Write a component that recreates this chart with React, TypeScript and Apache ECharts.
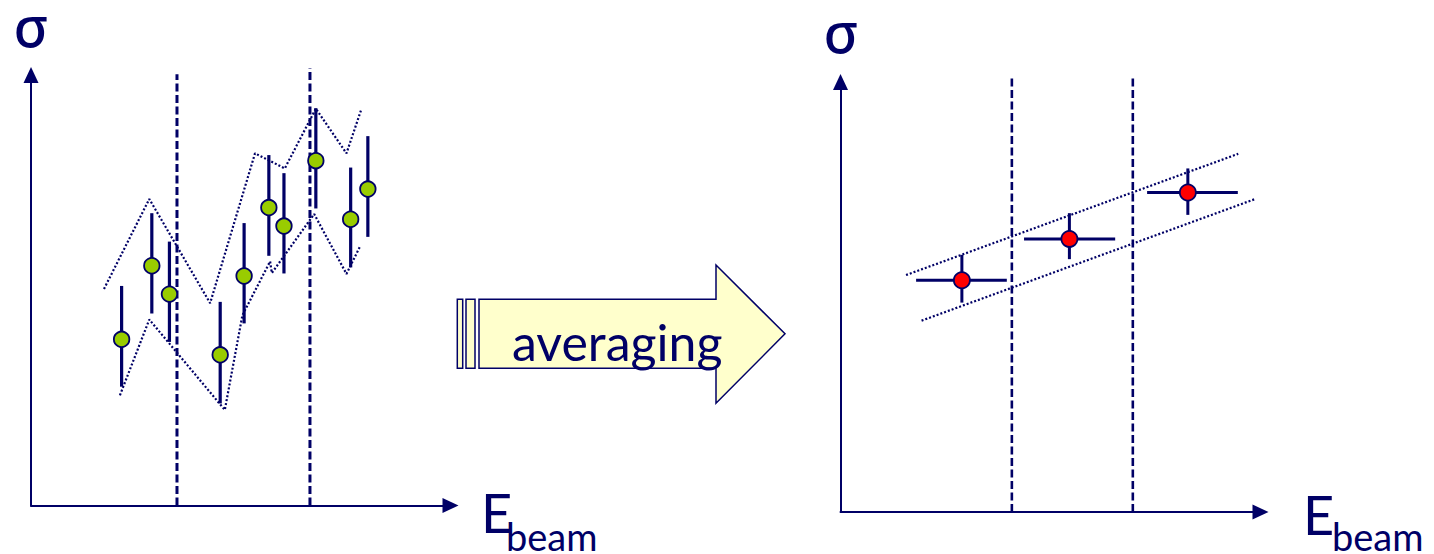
import React, { useEffect, useRef } from "react";
import * as echarts from "echarts";

const NAVY = "#000066";
const GREEN = "#99CC00";
const RED = "#FF0000";
const ARROW_FILL = "#FFFFCC";

// Individual measurements (left panel): beam energy, cross section, error band
const rawEnergy = [2.16, 2.88, 3.3, 4.51, 5.08, 5.67, 6.03, 6.79, 7.62, 8.03];
const rawSigma = [3.86, 5.57, 4.91, 3.5, 5.33, 6.92, 6.49, 8.01, 6.65, 7.35];
const rawSigmaLow = [2.76, 4.46, 3.8, 2.37, 4.23, 5.8, 5.39, 6.9, 5.53, 6.24];
const rawSigmaHigh = [5.1, 6.79, 6.13, 4.73, 6.56, 8.14, 7.72, 9.23, 7.85, 8.58];

// Envelope of the individual measurements
const rawUpper: [number, number][] = [
  [1.74, 5.03], [2.82, 7.12], [4.27, 4.7], [5.34, 8.18],
  [6.05, 7.83], [6.79, 9.22], [7.52, 8.18], [7.88, 9.22],
];
const rawLower: [number, number][] = [
  [2.12, 2.56], [2.82, 4.32], [4.62, 2.22], [5.04, 4.42], [5.7, 5.67],
  [5.74, 5.4], [6.75, 6.77], [7.52, 5.38], [7.85, 6.03],
];

// Energy bin boundaries, left panel
const rawBinEdges = [3.48, 6.65];
const rawBinTops = [10.02, 10.16];

// Averaged points (right panel)
const avgEnergy = [2.89, 5.45, 8.27];
const avgSigma = [5.39, 6.35, 7.43];
const avgEnergyLow = [1.8, 4.37, 7.3];
const avgEnergyHigh = [3.96, 6.54, 9.46];
const avgSigmaLow = [4.87, 5.88, 6.91];
const avgSigmaHigh = [5.98, 6.95, 7.99];

// Band around the averaged points
const avgUpper: [number, number][] = [[1.56, 5.51], [9.47, 8.33]];
const avgLower: [number, number][] = [[1.93, 4.45], [9.85, 7.27]];

// Energy bin boundaries, right panel
const avgBinEdges = [4.08, 6.96];
const avgBinTop = 10.08;

const axisCommon = {
  type: "value" as const,
  min: 0,
  max: 10,
  axisTick: { show: false },
  axisLabel: { show: false },
  splitLine: { show: false },
  axisLine: {
    show: true,
    onZero: false,
    symbol: ["none", "triangle"],
    symbolSize: [15, 16],
    lineStyle: { color: NAVY, width: 2 },
  },
};

function plainLine(
  data: [number, number][],
  axis: number,
  type: number[],
  width: number
) {
  return {
    type: "line" as const,
    xAxisIndex: axis,
    yAxisIndex: axis,
    data,
    showSymbol: false,
    symbol: "none",
    clip: false,
    silent: true,
    z: 1,
    lineStyle: { color: NAVY, width, type, cap: "butt" as const },
  };
}

export default function App() {
  const ref = useRef<HTMLDivElement>(null);

  useEffect(() => {
    if (!ref.current) return;
    const chart = echarts.init(ref.current, undefined, { renderer: "svg" });

    const series: any[] = [];

    // Left panel: bin boundaries
    rawBinEdges.forEach((e, i) =>
      series.push(plainLine([[e, 0], [e, rawBinTops[i]]], 0, [8, 3.5], 3))
    );
    // Left panel: envelope
    series.push(plainLine(rawUpper, 0, [2, 2], 2.2));
    series.push(plainLine(rawLower, 0, [2, 2], 2.2));
    // Left panel: error bars
    series.push({
      type: "custom",
      xAxisIndex: 0,
      yAxisIndex: 0,
      clip: false,
      z: 2,
      encode: { x: 0, y: [1, 2] },
      data: rawEnergy.map((e, i) => [e, rawSigmaLow[i], rawSigmaHigh[i]]),
      renderItem: (_p: any, api: any) => {
        const a = api.coord([api.value(0), api.value(1)]);
        const b = api.coord([api.value(0), api.value(2)]);
        return {
          type: "line",
          shape: { x1: a[0], y1: a[1], x2: b[0], y2: b[1] },
          style: { stroke: NAVY, lineWidth: 3.2 },
        };
      },
    });
    // Left panel: measurements
    series.push({
      type: "scatter",
      xAxisIndex: 0,
      yAxisIndex: 0,
      z: 3,
      symbol: "circle",
      symbolSize: 15.5,
      data: rawEnergy.map((e, i) => [e, rawSigma[i]]),
      itemStyle: { color: GREEN, borderColor: NAVY, borderWidth: 1.8, opacity: 1 },
    });

    // Right panel: bin boundaries
    avgBinEdges.forEach((e) =>
      series.push(plainLine([[e, 0], [e, avgBinTop]], 1, [8, 3.5], 2.6))
    );
    // Right panel: band
    series.push(plainLine(avgUpper, 1, [2, 2], 2.2));
    series.push(plainLine(avgLower, 1, [2, 2], 2.2));
    // Right panel: crosses
    series.push({
      type: "custom",
      xAxisIndex: 1,
      yAxisIndex: 1,
      clip: false,
      z: 2,
      encode: { x: [0, 2, 3], y: [1, 4, 5] },
      data: avgEnergy.map((e, i) => [
        e,
        avgSigma[i],
        avgEnergyLow[i],
        avgEnergyHigh[i],
        avgSigmaLow[i],
        avgSigmaHigh[i],
      ]),
      renderItem: (_p: any, api: any) => {
        const x = api.value(0);
        const y = api.value(1);
        const l = api.coord([api.value(2), y]);
        const r = api.coord([api.value(3), y]);
        const lo = api.coord([x, api.value(4)]);
        const hi = api.coord([x, api.value(5)]);
        return {
          type: "group",
          children: [
            {
              type: "line",
              shape: { x1: l[0], y1: l[1], x2: r[0], y2: r[1] },
              style: { stroke: NAVY, lineWidth: 3 },
            },
            {
              type: "line",
              shape: { x1: lo[0], y1: lo[1], x2: hi[0], y2: hi[1] },
              style: { stroke: NAVY, lineWidth: 3 },
            },
          ],
        };
      },
    });
    series.push({
      type: "scatter",
      xAxisIndex: 1,
      yAxisIndex: 1,
      z: 3,
      symbol: "circle",
      symbolSize: 16,
      data: avgEnergy.map((e, i) => [e, avgSigma[i]]),
      itemStyle: { color: RED, borderColor: NAVY, borderWidth: 1.8, opacity: 1 },
    });

    const textStyle = (size: number, family: string, lineHeight: number) => ({
      fill: NAVY,
      fontSize: size,
      fontFamily: family,
      lineHeight,
    });

    chart.setOption({
      animation: false,
      backgroundColor: "#ffffff",
      grid: [
        { left: 31, top: 75, width: 419.5, height: 430.5 },
        { left: 840.5, top: 82, width: 420, height: 430 },
      ],
      xAxis: [{ ...axisCommon, gridIndex: 0 }, { ...axisCommon, gridIndex: 1 }],
      yAxis: [{ ...axisCommon, gridIndex: 0 }, { ...axisCommon, gridIndex: 1 }],
      series,
      graphic: [
        // axis titles, left panel
        { type: "text", x: 31, y: 25, style: { ...textStyle(56, "Noto Sans", 38), fontWeight: 500, text: "σ", align: "center", verticalAlign: "middle" } },
        { type: "text", x: 481, y: 512, style: { ...textStyle(54, "Lato", 46), text: "E", align: "left", verticalAlign: "middle" } },
        { type: "text", x: 506, y: 536, style: { ...textStyle(38, "Lato", 30), text: "beam", align: "left", verticalAlign: "middle" } },
        // axis titles, right panel
        { type: "text", x: 841, y: 31, style: { ...textStyle(56, "Noto Sans", 38), fontWeight: 500, text: "σ", align: "center", verticalAlign: "middle" } },
        { type: "text", x: 1303, y: 514, style: { ...textStyle(54, "Lato", 46), text: "E", align: "left", verticalAlign: "middle" } },
        { type: "text", x: 1332, y: 536, style: { ...textStyle(38, "Lato", 30), text: "beam", align: "left", verticalAlign: "middle" } },
        // the block arrow between the panels
        { type: "rect", shape: { x: 457.3, y: 299.3, width: 5.4, height: 69 }, style: { fill: ARROW_FILL, stroke: NAVY, lineWidth: 1.5 } },
        { type: "rect", shape: { x: 466, y: 299.3, width: 9, height: 69 }, style: { fill: ARROW_FILL, stroke: NAVY, lineWidth: 1.5 } },
        {
          type: "polygon",
          shape: {
            points: [
              [479, 299.3], [716, 299.3], [716, 265], [785, 333.8],
              [716, 403.3], [716, 368.3], [479, 368.3],
            ],
          },
          style: { fill: ARROW_FILL, stroke: NAVY, lineWidth: 1.5 },
        },
        { type: "text", x: 512, y: 342, style: { ...textStyle(50, "Lato", 50), text: "averaging", align: "left", verticalAlign: "middle" } },
      ],
    });

    return () => chart.dispose();
  }, []);

  return (
    <div
      ref={ref}
      style={{ position: "absolute", left: 0, top: 0, width: 1434, height: 554, background: "#fff" }}
    />
  );
}
